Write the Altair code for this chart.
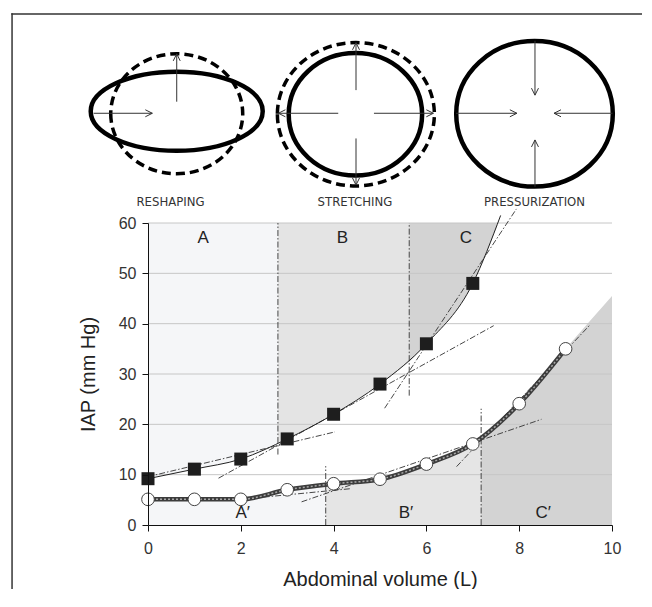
import altair as alt
import pandas as pd

# ---------------- values ----------------
vol_sq = [0, 1, 2, 3, 4, 5, 6, 7]
iap_sq = [9.2, 11.1, 13.1, 17.1, 22.0, 28.0, 36.0, 48.0]
vol_ci = [0, 1, 2, 3, 4, 5, 6, 7, 8, 9]
iap_ci = [5.1, 5.1, 5.1, 7.0, 8.2, 9.1, 12.1, 16.1, 24.1, 35.0]

# fitted curve of the upper series, continued past the last point
fit_sq_x = [0, 1, 2, 3, 4, 5, 6, 7, 7.6]
fit_sq_y = [9.2, 11.1, 13.1, 17.1, 22.0, 28.0, 36.0, 48.0, 61.5]

# shaded phases (upper: shaded above the curve, lower: below it)
phase_names = ["A", "B", "C", "A′", "B′", "C′"]
phase_colors = ["#f5f6f8", "#e4e4e4", "#d3d3d3", "#f5f6f8", "#e5e5e5", "#d3d3d3"]
phase_x = [
    [0, 1, 2, 2.8],
    [2.8, 3, 4, 5, 5.63],
    [5.63, 6, 7, 7.55],
    [0, 1, 2, 3, 3.83],
    [3.83, 4, 5, 6, 7, 7.18],
    [7.18, 8, 9, 10],
]
phase_y = [
    [9.2, 11.1, 13.1, 16.2],
    [16.2, 17.1, 22.0, 28.0, 32.4],
    [32.4, 36.0, 48.0, 60],
    [5.1, 5.1, 5.1, 7.0, 8.1],
    [8.1, 8.2, 9.1, 12.1, 16.1, 17.2],
    [17.2, 24.1, 35.0, 45.5],
]
phase_base = [60, 60, 60, 0, 0, 0]
phase_label_x = [1.19, 4.19, 6.85, 2.04, 5.56, 8.52]
phase_label_y = [57.1, 57.1, 57.1, 2.3, 2.3, 2.3]

# phase boundaries (vertical dash-dot lines)
bound_x = [2.8, 5.63, 3.83, 7.18]
bound_y1 = [14.0, 25.7, 0, 0]
bound_y2 = [60, 60, 11.7, 23.1]

# tangent (dash-dot) lines
tan_x1 = [0, 1.52, 5.1, 2.0, 3.31, 6.65]
tan_y1 = [9.6, 9.3, 23.2, 5.1, 4.6, 11.6]
tan_x2 = [4.03, 7.45, 7.94, 4.35, 8.48, 9.53]
tan_y2 = [18.5, 39.6, 62.8, 7.2, 21.0, 39.8]

grid_y = [10, 20, 30, 40, 50, 60]
x_ticks = [0, 2, 4, 6, 8, 10]
y_ticks = [0, 10, 20, 30, 40, 50, 60]

# ---------------- schematic drawings above the plot ----------------
diag_labels = ["RESHAPING", "STRETCHING", "PRESSURIZATION"]
diag_label_x = [0.485, 4.46, 8.33]
diag_label_y = [64.2, 64.2, 64.2]

solid_cx = [0.619, 4.47, 8.33]
solid_cy = [82.2, 81.6, 81.7]
solid_rx = [86, 66.7, 78.3]
solid_ry = [39.5, 61.2, 72.8]

dash_cx = [0.619, 4.48]
dash_cy = [81.7, 81.6]
dash_rx = [66, 78.5]
dash_ry = [60, 71.7]

arr_x1 = [0.619, -1.17, 4.483, 4.483, 4.10, 4.87, 8.34, 8.34, 6.64, 10.01]
arr_y1 = [84.1, 81.8, 86.4, 76.8, 81.8, 81.8, 96.2, 67.2, 81.8, 81.8]
arr_x2 = [0.619, 0.093, 4.483, 4.483, 2.81, 6.15, 8.34, 8.34, 7.95, 8.75]
arr_y2 = [93.6, 81.8, 95.8, 67.55, 81.8, 81.8, 85.4, 76.5, 81.8, 81.8]
arr_angle = [270, 0, 270, 90, 180, 0, 90, 270, 0, 180]

# figure frame: top band and left band (thin filled rectangles)
frame_x1 = [-2.946, -2.946]
frame_x2 = [10.9, -2.914]
frame_y1 = [101.35, 101.65]
frame_y2 = [101.65, -16.5]

# ---------------- tables ----------------
sq = pd.DataFrame({"x": vol_sq, "y": iap_sq})
ci = pd.DataFrame({"x": vol_ci, "y": iap_ci})
fit = pd.DataFrame({"x": fit_sq_x, "y": fit_sq_y})

rows = []
for name, xs_, ys_, base in zip(phase_names, phase_x, phase_y, phase_base):
    for xv, yv in zip(xs_, ys_):
        rows.append({"phase": name, "x": xv, "y": yv, "base": base})
phases = pd.DataFrame(rows)
phase_lab = pd.DataFrame({"t": phase_names, "x": phase_label_x, "y": phase_label_y})
bounds = pd.DataFrame({"x": bound_x, "y": bound_y1, "y2": bound_y2})
tans = pd.DataFrame({"x": tan_x1, "y": tan_y1, "x2": tan_x2, "y2": tan_y2})
grid = pd.DataFrame({"y": grid_y, "x": [x_ticks[0]] * len(grid_y), "x2": [x_ticks[-1]] * len(grid_y)})
frame = pd.DataFrame({"x": frame_x1, "x2": frame_x2, "y": frame_y1, "y2": frame_y2})


def ellipse_path(k):
    return f"M -1 0 A 1 {k:.4f} 0 1 0 1 0 A 1 {k:.4f} 0 1 0 -1 0 Z"


solid = pd.DataFrame({
    "x": solid_cx, "y": solid_cy,
    "shape": [ellipse_path(ry / rx) for rx, ry in zip(solid_rx, solid_ry)],
    "size": [(2 * rx) ** 2 for rx in solid_rx],
})
dashed = pd.DataFrame({
    "x": dash_cx, "y": dash_cy,
    "shape": [ellipse_path(ry / rx) for rx, ry in zip(dash_rx, dash_ry)],
    "size": [(2 * rx) ** 2 for rx in dash_rx],
})
arrows = pd.DataFrame({"x": arr_x1, "y": arr_y1, "x2": arr_x2, "y2": arr_y2, "angle": arr_angle})
dlab = pd.DataFrame({"t": diag_labels, "x": diag_label_x, "y": diag_label_y})

# ---------------- scales / axes ----------------
xs = alt.Scale(domain=[0, 10], nice=False, zero=False)
ys = alt.Scale(domain=[0, 60], nice=False, zero=False)
FONT = "Liberation Sans"

x_axis = alt.Axis(values=x_ticks, title="Abdominal volume (L)", grid=False, labelFlush=False,
                  domainColor="#111", tickColor="#111", tickSize=6, labelPadding=9,
                  labelFont=FONT, labelFontSize=16, labelColor="#333",
                  titleFont=FONT, titleFontSize=20, titleFontWeight="normal",
                  titleColor="#222", titlePadding=13, zindex=1)
y_axis = alt.Axis(values=y_ticks, title="IAP (mm Hg)", grid=False, labelFlush=False,
                  domainColor="#111", tickColor="#111", tickSize=6, labelPadding=6,
                  labelFont=FONT, labelFontSize=16, labelColor="#333",
                  titleFont=FONT, titleFontSize=20, titleFontWeight="normal",
                  titleColor="#222", titlePadding=20, zindex=1)


def X(field="x"):
    return alt.X(f"{field}:Q", scale=xs, axis=x_axis)


def Y(field="y"):
    return alt.Y(f"{field}:Q", scale=ys, axis=y_axis)


DASHDOT = [6, 2, 1.5, 2]

# ---------------- layers ----------------
areas = alt.Chart(phases).mark_area(interpolate="monotone", opacity=1).encode(
    x=X(), y=Y(), y2="base:Q",
    color=alt.Color("phase:N", scale=alt.Scale(domain=phase_names, range=phase_colors), legend=None),
)

grid_l = alt.Chart(grid).mark_rule(color="#c6c6c6", strokeWidth=1).encode(
    x=X(), x2="x2:Q", y=Y()
)

bounds_l = alt.Chart(bounds).mark_rule(color="#333", strokeWidth=0.9, strokeDash=DASHDOT).encode(
    x=X(), y=Y(), y2="y2:Q"
)

tans_l = alt.Chart(tans).mark_rule(color="#333", strokeWidth=0.9, strokeDash=DASHDOT).encode(
    x=X(), y=Y(), x2="x2:Q", y2="y2:Q"
)

fit_l = alt.Chart(fit).mark_line(color="#222", strokeWidth=1, interpolate="monotone").encode(
    x=X(), y=Y()
)

chain1 = alt.Chart(ci).mark_line(color="#3c3c3c", strokeWidth=4.5, interpolate="monotone").encode(
    x=X(), y=Y()
)
chain2 = alt.Chart(ci).mark_line(color="#a8a8a8", strokeWidth=1.5, strokeDash=[2, 2],
                                 interpolate="monotone").encode(x=X(), y=Y())

sq_pts = alt.Chart(sq).mark_point(shape="square", filled=True, color="#1e1e1e", size=169, opacity=1).encode(
    x=X(), y=Y()
)
ci_pts = alt.Chart(ci).mark_point(shape="circle", filled=True, fill="white", stroke="#444",
                                  strokeWidth=1, size=160, opacity=1).encode(x=X(), y=Y())

phase_text = alt.Chart(phase_lab).mark_text(font=FONT, fontSize=17, color="#222", baseline="middle").encode(
    x=X(), y=Y(), text="t:N"
)

solid_l = alt.Chart(solid).mark_point(filled=False, stroke="#000", strokeWidth=4.5, opacity=1).encode(
    x=X(), y=Y(),
    shape=alt.Shape("shape:N", scale=None, legend=None),
    size=alt.Size("size:Q", scale=None, legend=None),
)
dashed_l = alt.Chart(dashed).mark_point(filled=False, stroke="#000", strokeWidth=3.5,
                                        strokeDash=[9, 5], opacity=1).encode(
    x=X(), y=Y(),
    shape=alt.Shape("shape:N", scale=None, legend=None),
    size=alt.Size("size:Q", scale=None, legend=None),
)
arrow_shafts = alt.Chart(arrows).mark_rule(color="#333", strokeWidth=1).encode(
    x=X(), y=Y(), x2="x2:Q", y2="y2:Q"
)
arrow_heads = alt.Chart(arrows).mark_point(
    shape="M -1.5 -0.75 L 0 0 L -1.5 0.75", filled=False, stroke="#333", strokeWidth=1,
    size=87, opacity=1
).encode(
    x=X("x2"), y=Y("y2"), angle=alt.Angle("angle:Q", scale=None)
)
diag_text = alt.Chart(dlab).mark_text(
    font="Liberation Sans Narrow, DejaVu Sans Condensed, Arial Narrow, Liberation Sans",
    fontSize=13, color="#333", baseline="middle"
).encode(x=X(), y=Y(), text="t:N")

frame_l = alt.Chart(frame).mark_rect(color="#333", strokeWidth=0).encode(
    x=X(), x2="x2:Q", y=Y(), y2="y2:Q"
)

chart = alt.layer(
    areas, grid_l, bounds_l, tans_l, fit_l, chain1, chain2, sq_pts, ci_pts, phase_text,
    dashed_l, solid_l, arrow_shafts, arrow_heads, diag_text, frame_l,
).properties(
    width=464, height=302,
    autosize=alt.AutoSizeParams(type="none"),
    padding={"left": 140, "top": 215, "right": 30, "bottom": 64},
).configure_view(stroke=None)

chart.save("out.html", embed_options={"renderer": "svg", "actions": False})
